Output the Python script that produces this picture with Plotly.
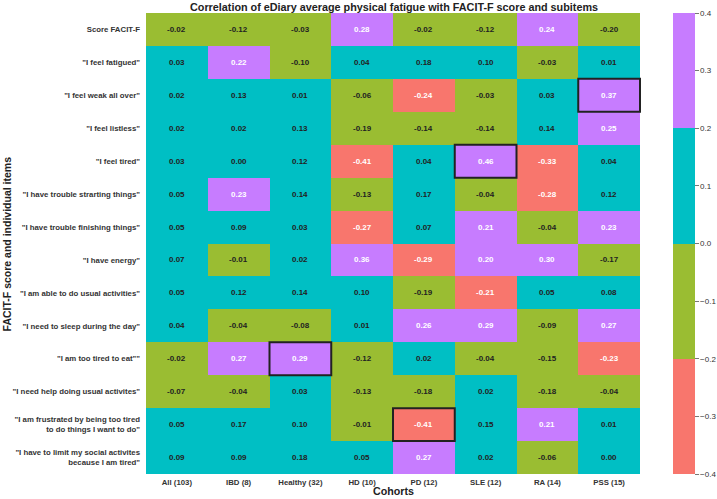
import plotly.graph_objects as go

cohorts = ["All (103)", "IBD (8)", "Healthy (32)", "HD (10)", "PD (12)", "SLE (12)", "RA (14)", "PSS (15)"]
items = [
    "Score FACIT-F",
    "\"I feel fatigued\"",
    "\"I feel weak all over\"",
    "\"I feel listless\"",
    "\"I feel tired\"",
    "\"I have trouble strarting things\"",
    "\"I have trouble finishing things\"",
    "\"I have energy\"",
    "\"I am able to do usual activities\"",
    "\"I need to sleep during the day\"",
    "\"I am too tired to eat\"\"",
    "\"I need help doing usual activites\"",
    "\"I am frustrated by being too tired<br>to do things I want to do\"",
    "\"I have to limit my social activites<br>because I am tired\"",
]
values = [
    [-0.02, -0.12, -0.03, 0.28, -0.02, -0.12, 0.24, -0.20],
    [0.03, 0.22, -0.10, 0.04, 0.18, 0.10, -0.03, 0.01],
    [0.02, 0.13, 0.01, -0.06, -0.24, -0.03, 0.03, 0.37],
    [0.02, 0.02, 0.13, -0.19, -0.14, -0.14, 0.14, 0.25],
    [0.03, 0.00, 0.12, -0.41, 0.04, 0.46, -0.33, 0.04],
    [0.05, 0.23, 0.14, -0.13, 0.17, -0.04, -0.28, 0.12],
    [0.05, 0.09, 0.03, -0.27, 0.07, 0.21, -0.04, 0.23],
    [0.07, -0.01, 0.02, 0.36, -0.29, 0.20, 0.30, -0.17],
    [0.05, 0.12, 0.14, 0.10, -0.19, -0.21, 0.05, 0.08],
    [0.04, -0.04, -0.08, 0.01, 0.26, 0.29, -0.09, 0.27],
    [-0.02, 0.27, 0.29, -0.12, 0.02, -0.04, -0.15, -0.23],
    [-0.07, -0.04, 0.03, -0.13, -0.18, 0.02, -0.18, -0.04],
    [0.05, 0.17, 0.10, -0.01, -0.41, 0.15, 0.21, 0.01],
    [0.09, 0.09, 0.18, 0.05, 0.27, 0.02, -0.06, 0.00],
]
# highlighted cells (row item index, cohort index)
highlighted = [(2, 7), (4, 5), (10, 2), (12, 4)]
cbar_ticks = [-0.4, -0.3, -0.2, -0.1, 0.0, 0.1, 0.2, 0.3, 0.4]

RED, GREEN, TEAL, PURPLE = "#F8766D", "#9ABD32", "#00BFC4", "#C77CFF"
e = 0.0001
colorscale = [
    [0.0, RED], [0.25 - e, RED],
    [0.25 - e, GREEN], [0.5 - e, GREEN],
    [0.5 - e, TEAL], [0.75 - e, TEAL],
    [0.75 - e, PURPLE], [1.0, PURPLE],
]

font_family = "Liberation Sans, Arial, sans-serif"

fig = go.Figure()
fig.add_trace(go.Heatmap(
    z=values, x=cohorts, y=items,
    zmin=-0.4, zmax=0.4, colorscale=colorscale,
    hoverongaps=False,
    colorbar=dict(
        x=1.065, xanchor="left", y=0.5, yanchor="middle",
        len=1.0, lenmode="fraction", thickness=22,
        outlinewidth=0, xpad=0, ypad=0,
        tickvals=cbar_ticks, tickformat=".1f",
        ticks="outside", ticklen=4, tickcolor="#777", tickwidth=1,
        tickfont=dict(family=font_family, size=8, color="#333"),
    ),
))

annotations = []
for i, row in enumerate(values):
    for j, v in enumerate(row):
        col = "white" if (v >= 0.2 or v < -0.2) else "#222"
        annotations.append(dict(
            x=cohorts[j], y=items[i], xref="x", yref="y",
            text="<b>%.2f</b>" % v, showarrow=False,
            font=dict(family=font_family, size=8, color=col),
        ))

annotations.append(dict(
    x=-0.281, y=0.5, xref="paper", yref="paper", xanchor="center", yanchor="middle",
    text="<b>FACIT-F score and individual items</b>", textangle=-90, showarrow=False,
    font=dict(family=font_family, size=10.5, color="#222"),
))
annotations.append(dict(
    x=0.5, y=-0.036, xref="paper", yref="paper", xanchor="center", yanchor="middle",
    text="<b>Cohorts</b>", showarrow=False,
    font=dict(family=font_family, size=10.7, color="#222"),
))
annotations.append(dict(
    x=0.5, y=1.0, xref="paper", yref="paper", xanchor="center", yanchor="bottom",
    yshift=-2,
    text="<b>Correlation of eDiary average physical fatigue with FACIT-F score and subitems</b>",
    showarrow=False,
    font=dict(family=font_family, size=10.8, color="#222"),
))

shapes = []
for (r, c) in highlighted:
    shapes.append(dict(
        type="rect", xref="x", yref="y",
        x0=c - 0.5, x1=c + 0.5, y0=r - 0.5, y1=r + 0.5,
        line=dict(color="#222", width=2), fillcolor="rgba(0,0,0,0)",
    ))

fig.update_layout(
    width=717, height=499,
    margin=dict(l=146, r=76, t=13, b=25, autoexpand=False),
    paper_bgcolor="white", plot_bgcolor="white",
    annotations=annotations, shapes=shapes,
    xaxis=dict(
        type="category", showgrid=False, zeroline=False, ticks="", automargin=False,
        tickfont=dict(family=font_family, size=7.8, color="#333"),
        tickprefix="<b>", ticksuffix="</b>", ticklabelstandoff=2,
    ),
    yaxis=dict(
        type="category", autorange="reversed", showgrid=False, zeroline=False, ticks="",
        automargin=False,
        tickfont=dict(family=font_family, size=7.8, color="#333"),
        tickprefix="<b>", ticksuffix="</b>", ticklabelstandoff=5,
    ),
)

fig.write_html("out.html")
